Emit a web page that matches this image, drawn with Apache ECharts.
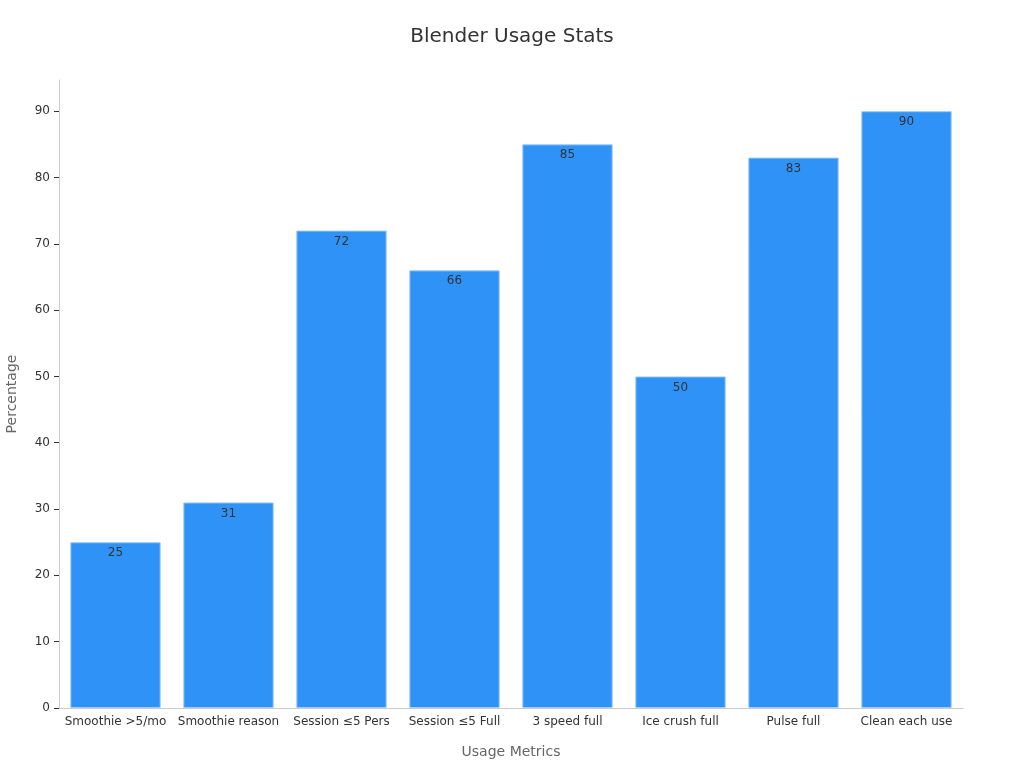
<!DOCTYPE html>
<html><head><meta charset="utf-8">
<script src="https://cdn.jsdelivr.net/npm/echarts@6/dist/echarts.min.js"></script>
<style>html,body{margin:0;padding:0;background:#fff}#c{width:1024px;height:768px}</style>
</head><body><div id="c"></div>
<script>
var categories = ["Smoothie >5/mo","Smoothie reason","Session \u22645 Pers","Session \u22645 Full","3 speed full","Ice crush full","Pulse full","Clean each use"];
var values = [25, 31, 72, 66, 85, 50, 83, 90];
var yTicks = [0,10,20,30,40,50,60,70,80,90];
var chart = echarts.init(document.getElementById('c'));
chart.setOption({
  animation:false,
  textStyle:{fontFamily:'"DejaVu Sans", sans-serif'},
  title:{text:'Blender Usage Stats',left:'center',top:22,textStyle:{fontSize:20,fontWeight:'normal',color:'#333'}},
  grid:{left:59,right:61,top:80,bottom:60,containLabel:false,outerBoundsMode:'none'},
  xAxis:{type:'category',data:categories,name:'Usage Metrics',nameLocation:'middle',nameGap:37,
    nameTextStyle:{color:'#666',fontSize:14},
    axisLine:{lineStyle:{color:'#ccc'}},axisTick:{alignWithLabel:true,lineStyle:{color:'#333'}},
    axisLabel:{color:'#333',fontSize:12,interval:0}},
  yAxis:{type:'value',min:0,max:94.7,interval:10,name:'Percentage',nameLocation:'middle',nameGap:40,
    nameTextStyle:{color:'#666',fontSize:14},
    axisLine:{show:true,lineStyle:{color:'#ccc'}},
    axisTick:{show:true,customValues:yTicks,lineStyle:{color:'#333'}},
    axisLabel:{color:'#333',fontSize:12,margin:9,customValues:yTicks},
    splitLine:{show:false}},
  series:[{type:'bar',data:values,barCategoryGap:'20%',
    itemStyle:{color:'#2f92f7',borderColor:'#9ecbf9',borderWidth:1},
    label:{show:true,position:'insideTop',color:'#333',fontSize:12}}]
});
</script></body></html>
